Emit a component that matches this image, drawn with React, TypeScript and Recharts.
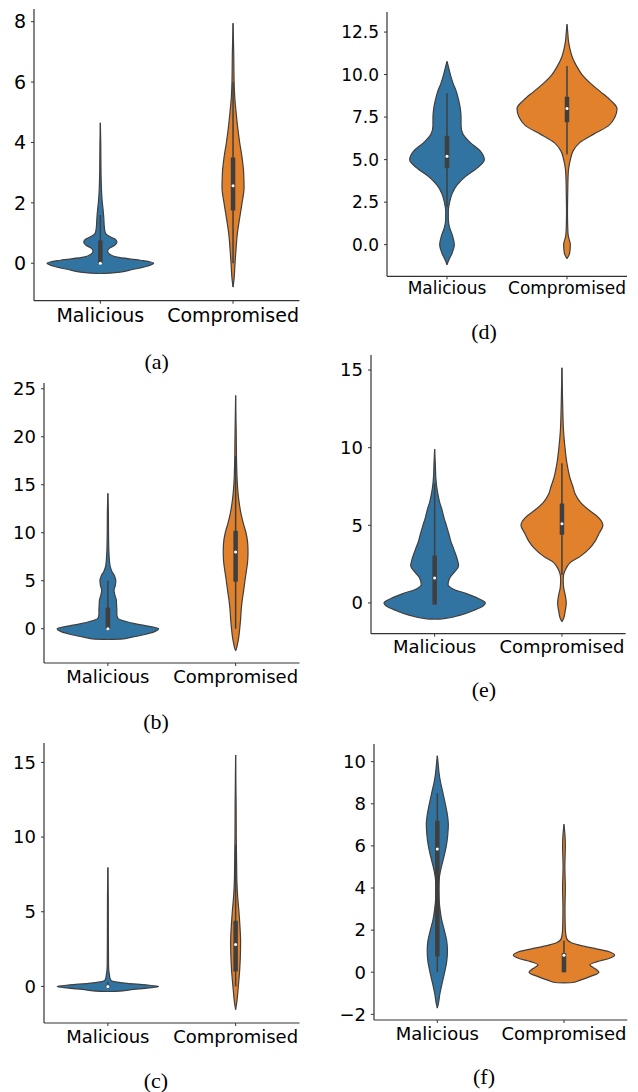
import React from 'react';
import { ComposedChart, Area, Line, XAxis, YAxis } from 'recharts';

// ---------- categories / colours ----------
const categories = ['Malicious', 'Compromised'];
const BLUE = '#3274a1';
const ORANGE = '#e1812c';
const EDGE = '#3f3f3f';

// ---------- (a) ----------
const aTicks = [0, 2, 4, 6, 8];
const aMalV = [-0.34, -0.33, -0.2, -0.1, 0, 0.1, 0.2, 0.3, 0.4, 0.5, 0.6, 0.7, 0.8, 0.9, 1.0, 1.2, 1.5, 1.8, 2.0, 2.3, 2.5, 3.0, 4.0, 4.65];
const aMalW = [0, 0.07, 0.25, 0.35, 0.402, 0.3, 0.126, 0.07, 0.055, 0.07, 0.11, 0.125, 0.11, 0.063, 0.038, 0.03, 0.026, 0.02, 0.015, 0.01, 0.008, 0.005, 0.003, 0];
const aCompV = [-0.79, -0.5, 0, 0.5, 1.0, 1.5, 2.0, 2.5, 3.0, 3.5, 4.0, 4.5, 5.0, 5.5, 6.0, 7.0, 7.95];
const aCompW = [0, 0.008, 0.015, 0.023, 0.033, 0.05, 0.068, 0.083, 0.08, 0.068, 0.05, 0.035, 0.023, 0.013, 0.008, 0.005, 0];
const aMalBox = [0, 0, 0, 0.75, 1.6]; // whisker low, q1, median, q3, whisker high
const aCompBox = [0, 1.75, 2.57, 3.5, 6.0];

// ---------- (d) ----------
const dTicks = [0, 2.5, 5, 7.5, 10, 12.5];
const dMalV = [-1.18, -0.92, -0.5, 0, 0.5, 1.0, 1.5, 2.0, 2.5, 3.0, 3.5, 4.0, 4.5, 5.0, 5.5, 6.0, 6.5, 7.0, 7.5, 8.0, 8.5, 9.0, 9.5, 10.0, 10.45, 10.78];
const dMalW = [0, 0.014, 0.042, 0.061, 0.047, 0.022, 0.011, 0.011, 0.022, 0.042, 0.083, 0.153, 0.25, 0.311, 0.278, 0.194, 0.133, 0.117, 0.117, 0.111, 0.097, 0.078, 0.05, 0.028, 0.012, 0];
const dCompV = [-0.82, -0.5, 0, 0.5, 1.0, 2.0, 3.0, 4.0, 4.5, 5.0, 5.5, 6.0, 6.5, 7.0, 7.5, 8.0, 8.5, 9.0, 9.5, 10.0, 10.5, 11.0, 11.5, 12.0, 12.5, 12.96];
const dCompW = [0, 0.022, 0.028, 0.011, 0.006, 0.004, 0.006, 0.009, 0.014, 0.028, 0.05, 0.106, 0.222, 0.347, 0.4, 0.417, 0.361, 0.278, 0.194, 0.125, 0.08, 0.045, 0.025, 0.012, 0.006, 0];
const dMalBox = [2.2, 4.5, 5.2, 6.4, 8.9];
const dCompBox = [5.3, 7.2, 8.0, 8.7, 10.5];

// ---------- (b) ----------
const bTicks = [0, 5, 10, 15, 20, 25];
const bMalV = [-1.1, -1.08, -0.9, -0.6, -0.3, 0, 0.3, 0.5, 0.8, 1.1, 1.5, 2.0, 2.5, 3.0, 3.5, 4.0, 4.5, 5.0, 5.5, 6.0, 6.5, 7.0, 8.0, 10.0, 12.0, 14.1];
const bMalW = [0, 0.105, 0.18, 0.29, 0.366, 0.397, 0.3, 0.22, 0.13, 0.078, 0.07, 0.07, 0.068, 0.066, 0.055, 0.048, 0.058, 0.062, 0.052, 0.031, 0.018, 0.013, 0.008, 0.005, 0.004, 0];
const bCompV = [-2.3, -2.0, -1.5, -1.0, 0, 1, 2, 3, 4, 5, 6, 7, 8, 9, 10, 11, 12, 13, 14, 15, 17, 20, 24.3];
const bCompW = [0, 0.008, 0.016, 0.023, 0.032, 0.039, 0.044, 0.052, 0.063, 0.073, 0.084, 0.094, 0.097, 0.094, 0.081, 0.06, 0.042, 0.029, 0.02, 0.014, 0.008, 0.005, 0];
const bMalBox = [0, 0, 0, 2.2, 5.0];
const bCompBox = [0, 4.9, 8.0, 10.2, 18.0];

// ---------- (e) ----------
const eTicks = [0, 5, 10, 15];
const eMalV = [-1.04, -1.02, -0.8, -0.5, -0.2, 0, 0.3, 0.6, 0.9, 1.2, 1.6, 2.0, 2.4, 2.8, 3.2, 3.6, 4.0, 4.5, 5.0, 5.5, 6.0, 6.5, 7.0, 7.5, 8.0, 9.0, 9.9];
const eMalW = [0, 0.06, 0.196, 0.3, 0.38, 0.398, 0.34, 0.25, 0.144, 0.105, 0.118, 0.157, 0.188, 0.178, 0.162, 0.144, 0.126, 0.11, 0.092, 0.073, 0.058, 0.039, 0.026, 0.016, 0.01, 0.005, 0];
const eCompV = [-1.2, -1.0, -0.5, 0, 0.5, 1.0, 1.5, 1.8, 2.2, 2.6, 3.0, 3.5, 4.0, 4.5, 5.0, 5.5, 6.0, 6.5, 7.0, 7.5, 8.0, 9.0, 10, 11, 12, 13, 15.15];
const eCompW = [0, 0.013, 0.026, 0.034, 0.026, 0.013, 0.01, 0.013, 0.031, 0.065, 0.144, 0.215, 0.262, 0.293, 0.322, 0.288, 0.209, 0.144, 0.105, 0.086, 0.065, 0.039, 0.024, 0.013, 0.008, 0.005, 0];
const eMalBox = [-0.1, -0.1, 1.6, 3.05, 7.7];
const eCompBox = [1.8, 4.4, 5.1, 6.4, 9.0];

// ---------- (c) ----------
const cTicks = [0, 5, 10, 15];
const cMalV = [-0.34, -0.33, -0.2, -0.1, 0, 0.1, 0.2, 0.3, 0.4, 0.6, 0.8, 1.0, 1.5, 3.0, 6.0, 7.97];
const cMalW = [0, 0.06, 0.2, 0.32, 0.397, 0.3, 0.15, 0.06, 0.025, 0.015, 0.012, 0.008, 0.005, 0.004, 0.003, 0];
const cCompV = [-1.56, -1, 0, 1, 2, 3, 4, 5, 6, 7, 8, 10, 12, 15.5];
const cCompW = [0, 0.01, 0.021, 0.031, 0.037, 0.039, 0.034, 0.026, 0.016, 0.01, 0.008, 0.005, 0.004, 0];
const cMalBox = [0, -0.05, 0, 0.08, 0.3];
const cCompBox = [0, 1.0, 2.8, 4.4, 9.5];

// ---------- (f) ----------
const fTicks = [-2, 0, 2, 4, 6, 8, 10];
const fMalV = [-1.71, -1.5, -1.0, -0.5, 0, 0.5, 1.0, 1.5, 2.0, 2.5, 3.0, 3.5, 4.0, 4.5, 5.0, 5.5, 6.0, 6.5, 7.0, 7.5, 8.0, 8.5, 9.0, 9.5, 10.0, 10.28];
const fMalW = [0, 0.008, 0.021, 0.039, 0.058, 0.074, 0.08, 0.074, 0.055, 0.034, 0.021, 0.013, 0.011, 0.016, 0.032, 0.053, 0.071, 0.082, 0.087, 0.079, 0.063, 0.045, 0.026, 0.013, 0.005, 0];
const fCompV = [-0.51, -0.49, -0.4, -0.2, 0, 0.15, 0.35, 0.5, 0.65, 0.8, 0.95, 1.1, 1.25, 1.4, 1.6, 2.0, 3.0, 4.0, 5.0, 6.0, 6.5, 7.03];
const fCompW = [0, 0.07, 0.118, 0.21, 0.276, 0.25, 0.205, 0.263, 0.355, 0.4, 0.368, 0.263, 0.145, 0.058, 0.021, 0.011, 0.008, 0.011, 0.007, 0.011, 0.008, 0];
const fMalBox = [0, 0.75, 5.85, 7.2, 8.5];
const fCompBox = [0, 0, 0.8, 0.9, 1.5];

type PanelProps = {
  x0: number; x1: number; y0: number; y1: number;
  domain: [number, number];
  ticks: number[];
  fontSize: number;
  fmt: (v: number) => string;
  malV: number[]; malW: number[]; compV: number[]; compW: number[];
  malBox: number[]; compBox: number[];
  xMargin: number;
};

const YW = 70;
const TM = 14;
const RM = 12;
const XH = 40;

function violinData(vals: number[], widths: number[], center: number) {
  return vals.map((v, i) => ({ y: v, r: [center - widths[i], center + widths[i]] }));
}

function boxParts(box: number[], center: number) {
  return {
    whisker: [{ y: box[0], x: center }, { y: box[4], x: center }],
    iqr: [{ y: box[1], x: center }, { y: box[3], x: center }],
    med: [{ y: box[2], x: center }],
  };
}

function Panel(p: PanelProps) {
  const w = p.x1 - p.x0 + YW + RM;
  const h = p.y1 - p.y0 + TM + XH;
  const mal = violinData(p.malV, p.malW, 0);
  const comp = violinData(p.compV, p.compW, 1);
  const mb = boxParts(p.malBox, 0);
  const cb = boxParts(p.compBox, 1);
  const tickStyle = { fontSize: p.fontSize, fill: '#000', fontFamily: '"DejaVu Sans", sans-serif' };
  const axisLine = { stroke: '#333', strokeWidth: 1.2 };
  return (
    <div style={{ position: 'absolute', left: p.x0 - YW, top: p.y0 - TM }}>
      <ComposedChart width={w} height={h} layout="vertical" margin={{ top: TM, right: RM, bottom: 0, left: 0 }}>
        <XAxis
          type="number"
          domain={[-0.5, 1.5]}
          allowDataOverflow
          ticks={[0, 1]}
          interval={0}
          tickFormatter={(v: number) => categories[v]}
          tick={tickStyle}
          tickSize={3}
          tickMargin={p.xMargin}
          axisLine={axisLine}
          tickLine={{ stroke: '#333' }}
          height={XH}
        />
        <YAxis
          type="number"
          dataKey="y"
          reversed
          domain={p.domain}
          allowDataOverflow
          ticks={p.ticks}
          interval={0}
          tickFormatter={p.fmt}
          tick={tickStyle}
          tickSize={3}
          tickMargin={5}
          axisLine={axisLine}
          tickLine={{ stroke: '#333' }}
          width={YW}
        />
        <Area data={mal} dataKey="r" type="monotone" fill={BLUE} fillOpacity={1} stroke={EDGE} strokeWidth={1.2} dot={false} activeDot={false} isAnimationActive={false} />
        <Area data={comp} dataKey="r" type="monotone" fill={ORANGE} fillOpacity={1} stroke={EDGE} strokeWidth={1.2} dot={false} activeDot={false} isAnimationActive={false} />
        <Line data={mb.whisker} dataKey="x" stroke={EDGE} strokeWidth={1.5} dot={false} activeDot={false} isAnimationActive={false} />
        <Line data={cb.whisker} dataKey="x" stroke={EDGE} strokeWidth={1.5} dot={false} activeDot={false} isAnimationActive={false} />
        <Line data={mb.iqr} dataKey="x" stroke={EDGE} strokeWidth={4.5} strokeLinecap="butt" dot={false} activeDot={false} isAnimationActive={false} />
        <Line data={cb.iqr} dataKey="x" stroke={EDGE} strokeWidth={4.5} strokeLinecap="butt" dot={false} activeDot={false} isAnimationActive={false} />
        <Line data={mb.med} dataKey="x" stroke="none" dot={{ r: 1.5, fill: '#fff', stroke: 'none' }} activeDot={false} isAnimationActive={false} />
        <Line data={cb.med} dataKey="x" stroke="none" dot={{ r: 1.5, fill: '#fff', stroke: 'none' }} activeDot={false} isAnimationActive={false} />
      </ComposedChart>
    </div>
  );
}

const intFmt = (v: number) => (v < 0 ? '\u2212' + Math.abs(v) : String(v));
const decFmt = (v: number) => v.toFixed(1);

function Caption({ x, y, text }: { x: number; y: number; text: string }) {
  return (
    <div style={{ position: 'absolute', left: x - 40, top: y - 14, width: 80, height: 28, lineHeight: '28px', textAlign: 'center', fontFamily: '"Liberation Serif", "Times New Roman", serif', fontSize: 22, color: '#000' }}>
      {text}
    </div>
  );
}

export default function App() {
  return (
    <div style={{ position: 'absolute', left: 0, top: 0, width: 638, height: 1092, background: '#fff', overflow: 'hidden' }}>
      <Panel x0={33.6} x1={299} y0={9} y1={300.7} domain={[-1.24, 8.42]} ticks={aTicks} fontSize={19} fmt={intFmt}
        malV={aMalV} malW={aMalW} compV={aCompV} compW={aCompW} malBox={aMalBox} compBox={aCompBox} xMargin={5} />
      <Panel x0={386.7} x1={626.7} y0={11.7} y1={276} domain={[-1.86, 13.68]} ticks={dTicks} fontSize={17} fmt={decFmt}
        malV={dMalV} malW={dMalW} compV={dCompV} compW={dCompW} malBox={dMalBox} compBox={dCompBox} xMargin={3} />
      <Panel x0={44.4} x1={299.9} y0={383.3} y1={663.3} domain={[-3.57, 25.6]} ticks={bTicks} fontSize={18} fmt={intFmt}
        malV={bMalV} malW={bMalW} compV={bCompV} compW={bCompW} malBox={bMalBox} compBox={bCompBox} xMargin={4} />
      <Panel x0={371.4} x1={626} y0={355} y1={633.7} domain={[-1.98, 15.97]} ticks={eTicks} fontSize={18} fmt={intFmt}
        malV={eMalV} malW={eMalW} compV={eCompV} compW={eCompW} malBox={eMalBox} compBox={eCompBox} xMargin={4} />
      <Panel x0={44.4} x1={299.9} y0={743.3} y1={1023.3} domain={[-2.45, 16.3]} ticks={cTicks} fontSize={18} fmt={intFmt}
        malV={cMalV} malW={cMalW} compV={cCompV} compW={cCompW} malBox={cMalBox} compBox={cCompBox} xMargin={4} />
      <Panel x0={374} x1={627.3} y0={744} y1={1020} domain={[-2.27, 10.84]} ticks={fTicks} fontSize={18} fmt={intFmt}
        malV={fMalV} malW={fMalW} compV={fCompV} compW={fCompW} malBox={fMalBox} compBox={fCompBox} xMargin={4} />
      <Caption x={156.7} y={362} text="(a)" />
      <Caption x={484} y={332} text="(d)" />
      <Caption x={156} y={722} text="(b)" />
      <Caption x={484} y={690} text="(e)" />
      <Caption x={156} y={1081} text="(c)" />
      <Caption x={484} y={1077} text="(f)" />
    </div>
  );
}
